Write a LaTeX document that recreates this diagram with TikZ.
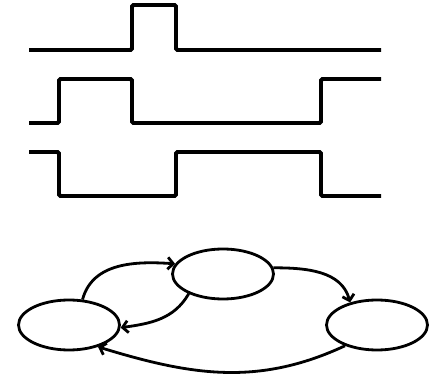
\documentclass[tikz,border=0pt]{standalone}
\usetikzlibrary{arrows.meta, shapes.geometric}
\tikzset{
  every picture/.style={x=1pt, y=1pt},
  wave/.style={line width=3.9pt, rounded corners=1.5pt},
  state/.style={ellipse, draw, line width=2.8pt, minimum width=101pt, minimum height=50pt, inner sep=0pt},
  trans/.style={-{Straight Barb[length=5.5pt, width=12pt]}, line width=2.8pt},
}

\begin{document}
\begin{tikzpicture}
  \useasboundingbox (0,0) rectangle (432,373);
  % three timing waveforms
  \draw[wave] (29,323) -- (132,323) -- (132,368) -- (176,368) -- (176,323) -- (381,323);
  \draw[wave] (29,250) -- (59,250) -- (59,294) -- (132,294) -- (132,250) -- (321,250) -- (321,294) -- (381,294);
  \draw[wave] (29,221) -- (59,221) -- (59,177) -- (176,177) -- (176,221) -- (321,221) -- (321,177) -- (381,177);
  % state diagram
  \node[state] (s1) at (69,48) {};
  \node[state] (s2) at (223,99) {};
  \node[state] (s3) at (377,48) {};
  \draw[trans] (s1.62) to[out=75, in=176] (s2.168);
  \draw[trans] (s2.210) to[out=240, in=8] (s1.-3);
  \draw[trans] (s2.7) to[out=0, in=105] (s3.140);
  \draw[trans] (s3.213) to[out=205, in=-17] (s1.-37);
\end{tikzpicture}
\end{document}
